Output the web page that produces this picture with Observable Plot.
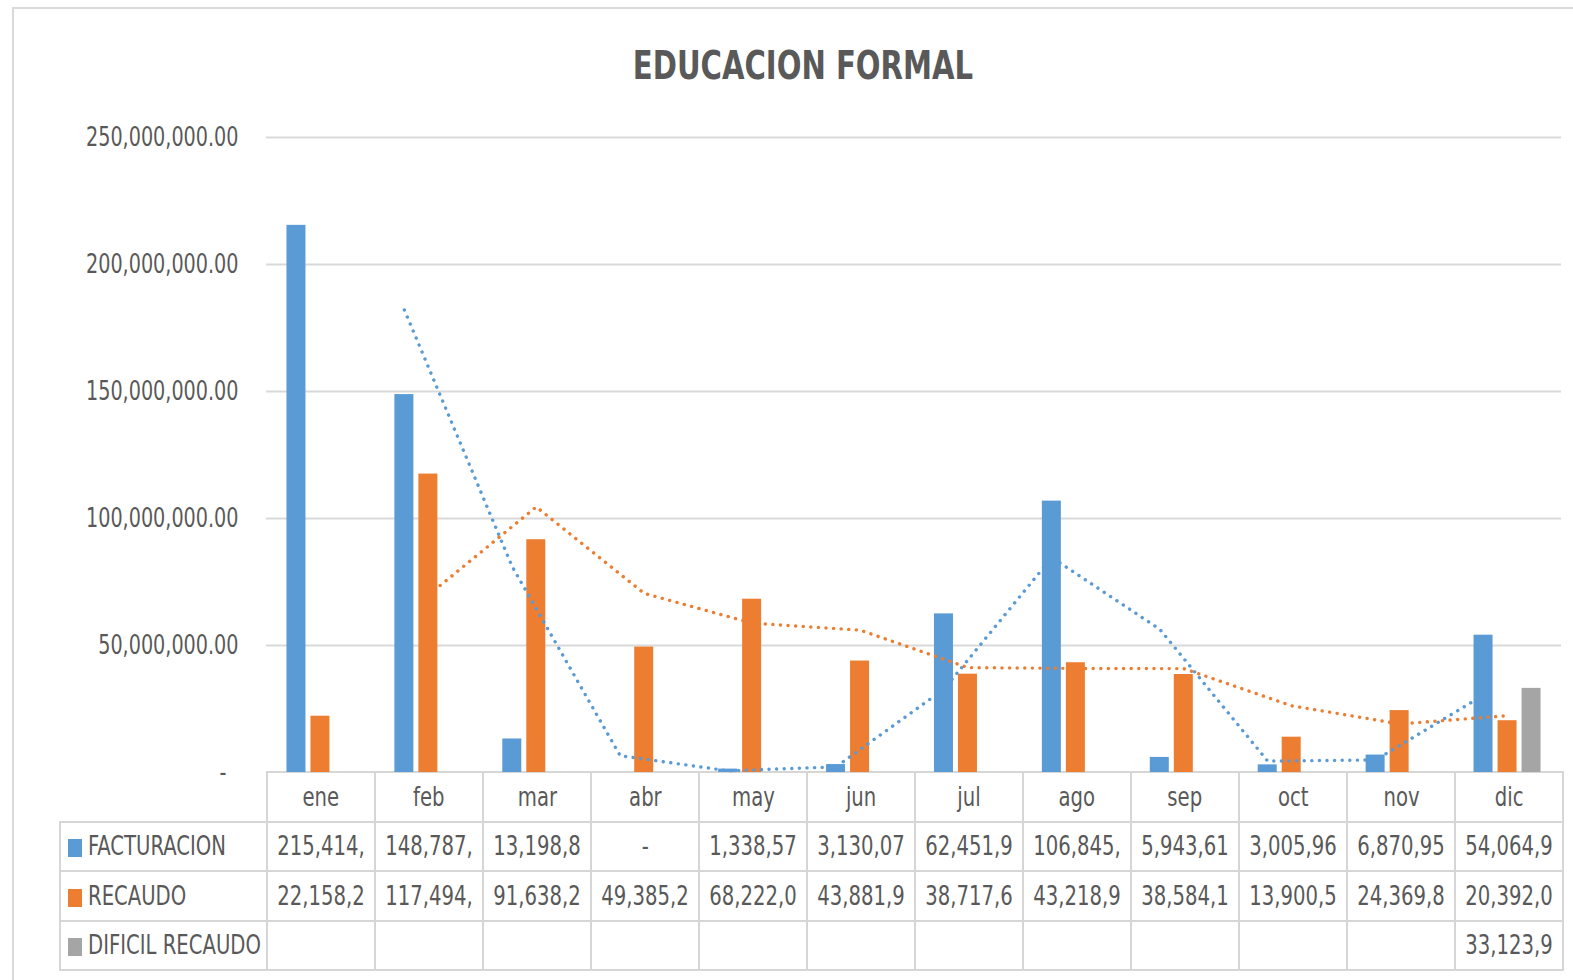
<!DOCTYPE html>
<html>
<head>
<meta charset="utf-8">
<script src="https://cdn.jsdelivr.net/npm/d3@7"></script>
<script src="https://cdn.jsdelivr.net/npm/@observablehq/plot@0.6"></script>
<style>
  html, body { margin: 0; padding: 0; background: #fff; }
  body { width: 1573px; height: 980px; position: relative; overflow: hidden;
         font-family: 'DejaVu Sans Condensed', 'Liberation Sans Narrow', sans-serif; color: #595959; }
  #frame { position: absolute; left: 12px; top: 7px; width: 1620px; height: 1020px; border: 2px solid #D9D9D9; box-sizing: border-box; }
  #title { position: absolute; left: 0; width: 1605px; top: 44px; text-align: center; font-weight: bold; font-size: 39px; line-height: 44px; color: #595959; }
  #title span { display: inline-block; transform: scaleX(0.83); transform-origin: 50% 50%; }
  #chart { position: absolute; left: 0; top: 0; }
  #tbl { position: absolute; left: 59px; top: 771px; border-collapse: collapse; table-layout: fixed; width: 1503px; }
  #tbl tr { height: 49.5px; }
  #tbl td { border: 2px solid #D6D6D6; padding: 0; text-align: center; font-size: 26px; color: #595959; white-space: nowrap; overflow: hidden; }
  #tbl td span.t { display: inline-block; transform: scaleX(0.84); transform-origin: 50% 50%; }
  #tbl td.blank { border: none; }
  #tbl td.lab { text-align: left; }
  #tbl td.lab span.t { transform-origin: 0 50%; }
  .sw { display: inline-block; width: 14px; height: 18px; margin-left: 7px; margin-right: 6px; vertical-align: -2px; }
</style>
</head>
<body>
<div id="frame"></div>
<div id="title"><span>EDUCACION FORMAL</span></div>
<table id="tbl"></table>
<div id="chart"></div>
<script>
const months = ["ene","feb","mar","abr","may","jun","jul","ago","sep","oct","nov","dic"];
const seriesNames = ["FACTURACION","RECAUDO","DIFICIL RECAUDO"];
const seriesColors = ["#5B9BD5","#ED7D31","#A5A5A5"];
const facturacion = [215414000,148787000,13198800,0,1338570,3130070,62451900,106845000,5943610,3005960,6870950,54064900];
const recaudo = [22158200,117494000,91638200,49385200,68222000,43881900,38717600,43218900,38584100,13900500,24369800,20392000];
const dificil = [null,null,null,null,null,null,null,null,null,null,null,33123900];
const yTicks = [0,50000000,100000000,150000000,200000000,250000000];

const allSeries = [facturacion, recaudo, dificil];
const toRows = (arr) => months.map((m,i) => ({month: m, value: arr[i]}));
const factRows = toRows(facturacion);
const recRows = toRows(recaudo);
const difRows = toRows(dificil).filter(d => d.value != null);

const fmt = d3.format(",.2f");
const cellText = v => v == null ? "" : (v === 0 ? "-" : fmt(v).slice(0, 8));

// Data table
const tbl = document.getElementById("tbl");
const cg = document.createElement("colgroup");
cg.innerHTML = `<col style="width:207px">` + months.map(() => `<col style="width:108px">`).join("");
tbl.appendChild(cg);
const hr = tbl.insertRow();
const hc0 = hr.insertCell(); hc0.className = "blank";
months.forEach(m => { const c = hr.insertCell(); c.innerHTML = `<span class="t">${m}</span>`; });
seriesNames.forEach((name, si) => {
  const r = tbl.insertRow();
  const lc = r.insertCell(); lc.className = "lab";
  lc.innerHTML = `<span class="sw" style="background:${seriesColors[si]}"></span><span class="t">${name}</span>`;
  allSeries[si].forEach(v => { const c = r.insertCell(); const t = cellText(v); c.innerHTML = t ? `<span class="t">${t}</span>` : ""; });
});

const bw = 1295 / 12;
const inset = (bw - 19) / 2;
const chart = Plot.plot({
  width: 1573,
  height: 980,
  marginLeft: 266,
  marginRight: 12,
  marginTop: 137,
  marginBottom: 208,
  style: { background: "transparent", fontFamily: "'DejaVu Sans Condensed', 'Liberation Sans Narrow', sans-serif", fontSize: "26px", color: "#595959", overflow: "visible" },
  x: { domain: months, padding: 0, round: false, axis: null },
  y: { domain: [0, 250000000], axis: null },
  marks: [
    Plot.ruleY(yTicks.filter(t => t > 0), { stroke: "#D9D9D9", strokeWidth: 2 }),
    Plot.axisY(yTicks, { anchor: "left", label: null, tickSize: 0, tickPadding: 28, fontSize: 26, fill: "#595959",
      tickFormat: t => t === 0 ? "-\u00a0\u00a0" : fmt(t) }),
    Plot.barY(factRows, { x: "month", y: "value", fill: seriesColors[0], dx: -24, insetLeft: inset, insetRight: inset }),
    Plot.barY(recRows, { x: "month", y: "value", fill: seriesColors[1], insetLeft: inset, insetRight: inset }),
    Plot.barY(difRows, { x: "month", y: "value", fill: seriesColors[2], dx: 24, insetLeft: inset, insetRight: inset }),
    Plot.lineY(factRows, Plot.windowY({ k: 2, anchor: "end", strict: true }, { x: "month", y: "value", stroke: seriesColors[0], strokeWidth: 3.4, strokeDasharray: "0.1 7.5", strokeLinecap: "round", dx: -24 })),
    Plot.lineY(recRows, Plot.windowY({ k: 2, anchor: "end", strict: true }, { x: "month", y: "value", stroke: seriesColors[1], strokeWidth: 3.4, strokeDasharray: "0.1 7.5", strokeLinecap: "round" }))
  ]
});
document.getElementById("chart").appendChild(chart);
// condense the axis tick labels horizontally (narrow face look)
chart.querySelectorAll("text").forEach(t => {
  const w = t.getComputedTextLength();
  if (w > 0) { t.setAttribute("textLength", (w * 0.82).toFixed(1)); t.setAttribute("lengthAdjust", "spacingAndGlyphs"); }
});
</script>
</body>
</html>
